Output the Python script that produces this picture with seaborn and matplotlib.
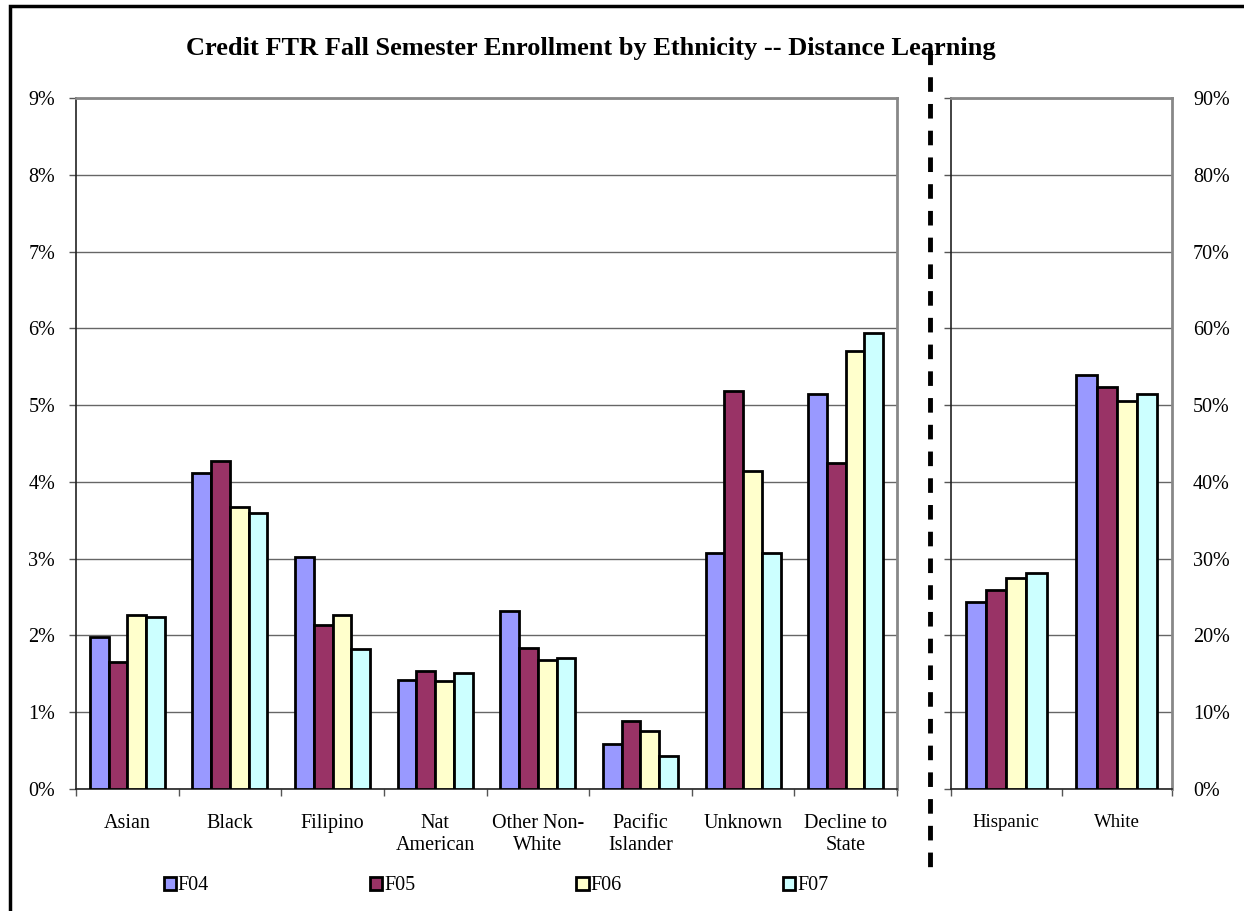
import pandas as pd
import matplotlib
matplotlib.use("Agg")
import matplotlib.pyplot as plt
import matplotlib.patches as mpatches
from matplotlib.lines import Line2D
from matplotlib.ticker import PercentFormatter
import seaborn as sns

# data (percent of enrollment)
years = ['F04', 'F05', 'F06', 'F07']
groups_small = ['Asian', 'Black', 'Filipino', 'Nat\nAmerican', 'Other Non-\nWhite',
                'Pacific\nIslander', 'Unknown', 'Decline to\nState']
f04_small = [1.98, 4.11, 3.02, 1.42, 2.32, 0.58, 3.08, 5.15]
f05_small = [1.66, 4.27, 2.14, 1.54, 1.84, 0.88, 5.19, 4.24]
f06_small = [2.27, 3.67, 2.27, 1.41, 1.68, 0.75, 4.14, 5.70]
f07_small = [2.24, 3.60, 1.83, 1.51, 1.71, 0.43, 3.08, 5.94]

groups_big = ['Hispanic', 'White']
f04_big = [24.3, 53.9]
f05_big = [25.9, 52.3]
f06_big = [27.5, 50.6]
f07_big = [28.2, 51.4]

colors = ['#9999FF', '#993366', '#FFFFCC', '#CCFFFF']

small = pd.DataFrame({'group': groups_small * 4,
                      'year': [y for y in years for _ in groups_small],
                      'pct': f04_small + f05_small + f06_small + f07_small})
big = pd.DataFrame({'group': groups_big * 4,
                    'year': [y for y in years for _ in groups_big],
                    'pct': f04_big + f05_big + f06_big + f07_big})

sns.set_style("white")
plt.rcParams['font.family'] = ['Liberation Serif', 'DejaVu Serif']
plt.rcParams['text.color'] = 'black'
plt.rcParams['xtick.color'] = 'black'
plt.rcParams['ytick.color'] = 'black'

fig = plt.figure(figsize=(12.44, 9.11), dpi=100)
ax1 = fig.add_axes([0.0611, 0.1339, 0.660, 0.7585])
ax2 = fig.add_axes([0.7645, 0.1339, 0.1777, 0.7585])

for ax, df, top, step in [(ax1, small, 9, 1), (ax2, big, 90, 10)]:
    sns.barplot(data=df, x='group', y='pct', hue='year', hue_order=years,
                palette=colors, width=0.73, gap=0, edgecolor='black',
                linewidth=2, saturation=1, legend=False, ax=ax, zorder=3)
    n = df['group'].nunique()
    ax.set_xlim(-0.5, n - 0.5)
    ax.set_ylim(0, top)
    ax.set_yticks(range(0, top + 1, step))
    ax.yaxis.set_major_formatter(PercentFormatter(decimals=0))
    ax.grid(axis='y', color='#666666', linewidth=1, zorder=0)
    ax.set_xlabel('')
    ax.set_ylabel('')
    ax.set_xticks([i + 0.5 for i in range(-1, n)], minor=True)
    ax.tick_params(axis='x', which='major', length=0, pad=18, labelsize=14.5)
    ax.tick_params(axis='x', which='minor', length=5, width=1, color='#555555', direction='out', bottom=True)
    ax.tick_params(axis='y', length=5, width=1, color='#555555', direction='out', labelsize=14.5, left=True)
    for s in ['top', 'right']:
        ax.spines[s].set_color('#888888')
        ax.spines[s].set_linewidth(2)
    for s in ['left', 'bottom']:
        ax.spines[s].set_color('#222222')
        ax.spines[s].set_linewidth(1.2)

ax1.tick_params(axis='y', pad=10)
ax2.tick_params(axis='y', labelleft=False, labelright=True, pad=10)
ax2.tick_params(axis='x', which='major', labelsize=13.5)

fig.text(0.475, 0.947, 'Credit FTR Fall Semester Enrollment by Ethnicity -- Distance Learning',
         ha='center', va='center', fontsize=19, fontweight='bold')

# dashed divider between the two panels
fig.add_artist(Line2D([930 / 1244, 930 / 1244], [1 - 50 / 911, 1 - 873 / 911],
                      color='black', linewidth=3.5, linestyle=(0, (3, 2.5))))

# outer frame (only top and left edges visible in the original)
fig.add_artist(mpatches.Rectangle((10 / 1244, -0.05), 1.1, 1 - 6 / 911 + 0.05,
                                  fill=False, edgecolor='black', linewidth=2.5,
                                  transform=fig.transFigure))

handles = [mpatches.Patch(facecolor=c, edgecolor='black', linewidth=2, label=y)
           for c, y in zip(colors, years)]
fig.legend(handles=handles, loc='center', bbox_to_anchor=(496 / 1244, 1 - 886 / 911),
           ncol=4, frameon=False, fontsize=14.5, handlelength=0.6, handleheight=0.6,
           handletextpad=0.1, columnspacing=8.0)

fig.savefig('out.png', dpi=100)
